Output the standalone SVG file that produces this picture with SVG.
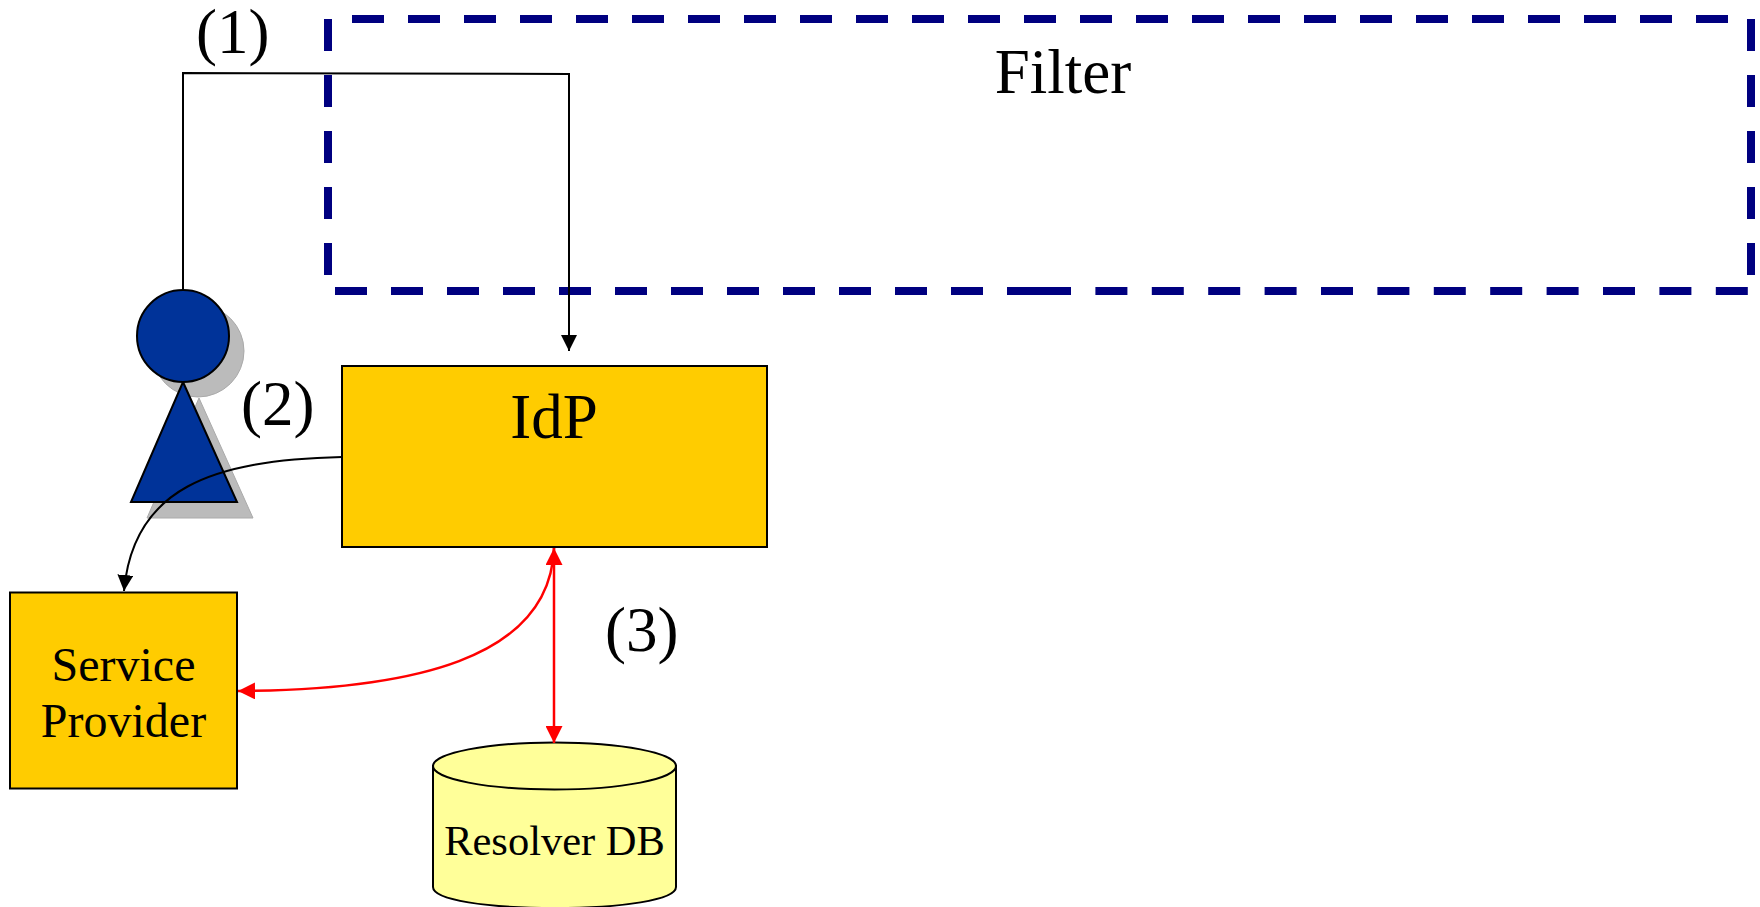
<svg xmlns="http://www.w3.org/2000/svg" width="1760" height="907" viewBox="0 0 1760 907">
<style>
text{font-family:"Liberation Serif","Times New Roman",serif;fill:#000}
.box{fill:#FFCC00;stroke:#000;stroke-width:2}
.dash{fill:none;stroke:#000080;stroke-width:8;stroke-dasharray:32 24}
.big{font-size:63px}.mid{font-size:48px;text-anchor:middle}
.blk{fill:none;stroke:#000;stroke-width:2}
.red{fill:none;stroke:#F00;stroke-width:2.500}
</style>
<defs>
<marker id="ab" markerUnits="userSpaceOnUse" markerWidth="16" markerHeight="16" refX="16" refY="8" orient="auto"><path d="M0,0L16,8L0,16Z" fill="#000"/></marker>
<marker id="ar" markerUnits="userSpaceOnUse" markerWidth="17" markerHeight="17" refX="17" refY="8.500" orient="auto-start-reverse"><path d="M0,0L17,8.500L0,17Z" fill="#F00"/></marker>
</defs>
<rect width="1760" height="907" fill="#fff"/>
<g id="filter">
<path class="dash" d="M352,19H1735"/>
<path class="dash" d="M328,19V275"/>
<path class="dash" d="M1751,19V275"/>
<path class="dash" d="M335,291H1039"/>
<path class="dash" d="M1039,291H1748" style="stroke-dasharray:32 24.400"/>
<text class="big" x="1063" y="92.500" text-anchor="middle">Filter</text>
</g>
<g id="user">
<circle cx="198" cy="351" r="46" fill="#BBB" stroke="#AAA"/>
<path d="M199,398L253,518H147Z" fill="#BBB" stroke="#AAA"/>
<path d="M183,382L237,502H131Z" fill="#003399" stroke="#000" stroke-width="2"/>
<circle cx="183" cy="336" r="46" fill="#003399" stroke="#000" stroke-width="2"/>
</g>
<g id="idp">
<rect class="box" x="342" y="366" width="425" height="181"/>
<text class="big" x="554" y="438" text-anchor="middle">IdP</text>
</g>
<g id="service-provider">
<rect class="box" x="10" y="592.500" width="227" height="196"/>
<text class="mid" x="123.500" y="681">Service</text>
<text class="mid" x="123.500" y="737">Provider</text>
</g>
<g id="resolver-db">
<path d="M433,766V887C433,900 487,908 554.500,908C622,908 676,900 676,887V766Z" fill="#FFFF99" stroke="#000" stroke-width="2"/>
<ellipse cx="554.500" cy="766" rx="121.500" ry="23.500" fill="#FFFF99" stroke="#000" stroke-width="2"/>
<text x="554.500" y="855" font-size="42.500" text-anchor="middle">Resolver DB</text>
</g>
<g id="connectors">
<path class="blk" d="M183,291V73L569,74V351" marker-end="url(#ab)"/>
<path class="blk" d="M342,457C212,460 133,488 124,591" marker-end="url(#ab)"/>
<path class="red" d="M554,548V743" marker-start="url(#ar)" marker-end="url(#ar)"/>
<path class="red" d="M554,548C550,660 410,690 238,691" marker-end="url(#ar)"/>
</g>
<g id="labels">
<text class="big" x="196" y="53">(1)</text>
<text class="big" x="241" y="425">(2)</text>
<text class="big" x="605" y="651">(3)</text>
</g>
</svg>
